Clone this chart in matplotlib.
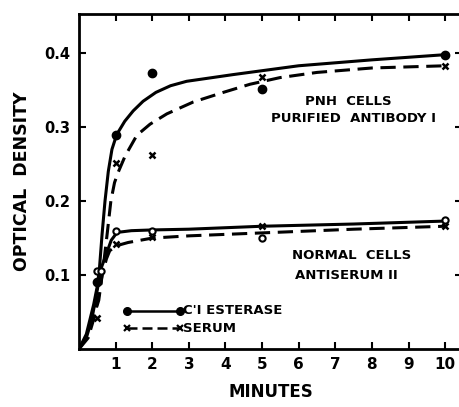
import matplotlib
matplotlib.use("Agg")
import matplotlib.pyplot as plt

# ---- data ----
# measured points
pnh_est_x = [0.5, 1, 2, 5, 10]
pnh_est_y = [0.09, 0.29, 0.373, 0.352, 0.398]
pnh_ser_x = [1, 2, 5, 10]
pnh_ser_y = [0.252, 0.262, 0.368, 0.383]
nor_est_x = [0.5, 0.6, 1, 2, 5, 10]
nor_est_y = [0.105, 0.105, 0.159, 0.159, 0.15, 0.174]
nor_ser_x = [0.5, 1, 2, 5, 10]
nor_ser_y = [0.042, 0.142, 0.151, 0.166, 0.167]

# fitted curves (nodes)
pnh_est_cx = [0, 0.2, 0.4, 0.5, 0.56, 0.63, 0.71, 0.8, 0.9, 1.03, 1.25, 1.48, 1.75, 2.1, 2.5, 2.94, 4.2, 6.0, 8.0, 10.0]
pnh_est_cy = [0, 0.02, 0.06, 0.085, 0.11, 0.155, 0.2, 0.24, 0.27, 0.29, 0.308, 0.322, 0.335, 0.347, 0.356, 0.362, 0.371, 0.383, 0.391, 0.398]
pnh_ser_cx = [0, 0.25, 0.54, 0.66, 0.77, 0.87, 0.97, 1.07, 1.26, 1.58, 1.94, 2.4, 3.12, 3.94, 4.67, 5.49, 6.5, 8.0, 10.0]
pnh_ser_cy = [0, 0.02, 0.066, 0.11, 0.156, 0.2, 0.225, 0.239, 0.261, 0.289, 0.304, 0.318, 0.334, 0.347, 0.358, 0.367, 0.374, 0.38, 0.383]
nor_est_cx = [0, 0.2, 0.35, 0.5, 0.61, 0.75, 0.88, 1.0, 1.1, 1.43, 2.0, 3.0, 5.0, 7.5, 10.0]
nor_est_cy = [0, 0.015, 0.04, 0.08, 0.11, 0.129, 0.147, 0.155, 0.158, 0.16, 0.161, 0.162, 0.166, 0.169, 0.173]
nor_ser_cx = [0, 0.25, 0.4, 0.55, 0.63, 0.75, 0.84, 1.05, 1.34, 2.0, 3.0, 5.0, 7.5, 10.0]
nor_ser_cy = [0, 0.015, 0.04, 0.075, 0.1, 0.122, 0.133, 0.14, 0.144, 0.15, 0.153, 0.157, 0.162, 0.166]

x_ticks = [1, 2, 3, 4, 5, 6, 7, 8, 9, 10]
x_ticklabels = ["1", "2", "3", "4", "5", "6", "7", "8", "9", "10"]
y_ticks = [0.1, 0.2, 0.3, 0.4]
y_ticklabels = ["0.1", "0.2", "0.3", "0.4"]

FONT = "DejaVu Sans"
plt.rcParams["font.family"] = [FONT]

fig = plt.figure(figsize=(4.6, 4.07), dpi=100)
ax = fig.add_axes([79 / 460, 1 - 349 / 407, 383 / 460, 335 / 407])
ax.set_xlim(0, 10.46)
ax.set_ylim(0, 0.453)

lw = 2.2
dash = (0, (5, 2.5))
ax.plot(pnh_est_cx, pnh_est_cy, color="black", lw=lw, solid_joinstyle="round")
ax.plot(pnh_ser_cx, pnh_ser_cy, color="black", lw=lw, linestyle=dash)
ax.plot(nor_est_cx, nor_est_cy, color="black", lw=lw, solid_joinstyle="round")
ax.plot(nor_ser_cx, nor_ser_cy, color="black", lw=lw, linestyle=dash)

ax.plot(pnh_est_x, pnh_est_y, "o", color="black", ms=6, ls="none")
ax.plot(pnh_ser_x, pnh_ser_y, "x", color="black", ms=5, mew=1.8, ls="none")
ax.plot(nor_est_x, nor_est_y, "o", mfc="white", mec="black", ms=4.5, mew=1.5, ls="none")
ax.plot(nor_ser_x, nor_ser_y, "x", color="black", ms=5, mew=1.8, ls="none")

# legend (drawn as in the original figure)
ax.plot([1.3, 2.75], [0.052, 0.052], color="black", lw=1.8)
ax.plot([1.3, 2.75], [0.052, 0.052], "o", color="black", ms=5.5)
ax.text(2.85, 0.052, "C'I ESTERASE", fontsize=9.5, fontweight="bold", va="center", ha="left")
ax.plot([1.3, 2.75], [0.028, 0.028], color="black", lw=1.8, linestyle=(0, (4, 2)))
ax.plot([1.3, 2.75], [0.028, 0.028], "x", color="black", ms=4.5, mew=1.6)
ax.text(2.85, 0.028, "SERUM", fontsize=9.5, fontweight="bold", va="center", ha="left")

# annotations
ax.text(7.35, 0.335, "PNH  CELLS", fontsize=9.5, fontweight="bold", ha="center", va="center")
ax.text(7.5, 0.312, "PURIFIED  ANTIBODY I", fontsize=9.5, fontweight="bold", ha="center", va="center")
ax.text(7.45, 0.126, "NORMAL  CELLS", fontsize=9.5, fontweight="bold", ha="center", va="center")
ax.text(7.3, 0.099, "ANTISERUM II", fontsize=9.5, fontweight="bold", ha="center", va="center")

ax.set_xticks(x_ticks)
ax.set_xticklabels(x_ticklabels, fontsize=11, fontweight="bold")
ax.set_yticks(y_ticks)
ax.set_yticklabels(y_ticklabels, fontsize=10.5, fontweight="bold")
ax.tick_params(direction="in", length=5, width=1.5, top=True, right=True, pad=6)

for s in ["left", "bottom", "top"]:
    ax.spines[s].set_linewidth(2)
ax.spines["right"].set_visible(False)

ax.set_xlabel("MINUTES", fontsize=12, fontweight="bold", labelpad=8)
ax.set_ylabel("OPTICAL  DENSITY", fontsize=12.5, fontweight="bold", labelpad=10)

fig.savefig("out.png", dpi=100)
